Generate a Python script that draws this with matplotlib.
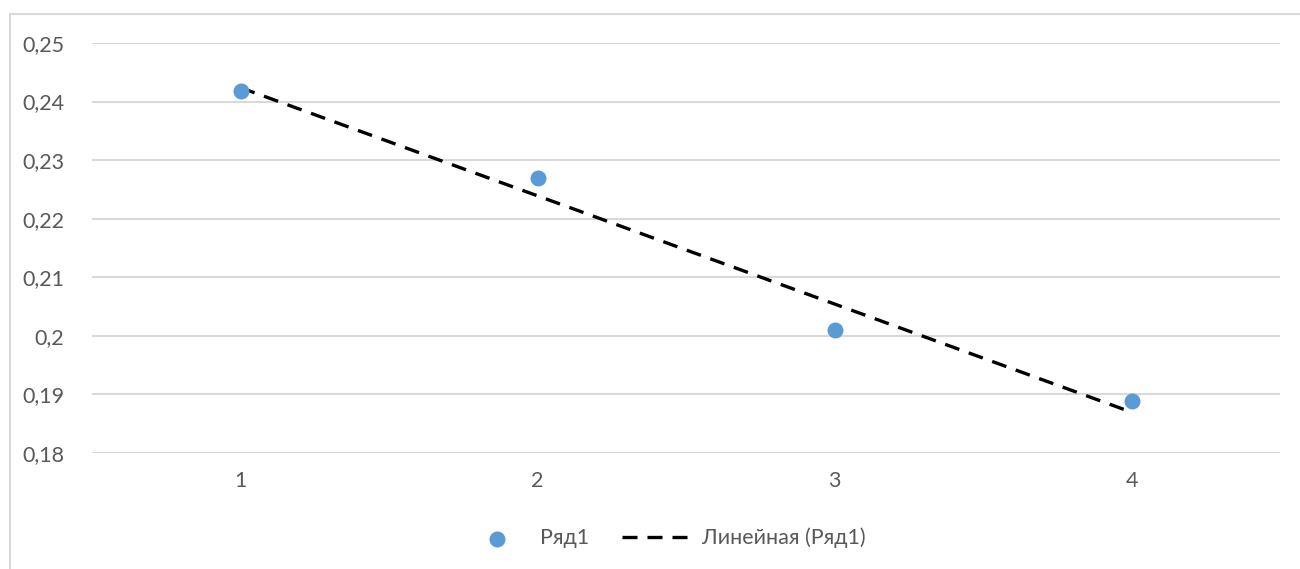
import numpy as np
import matplotlib.pyplot as plt
from matplotlib.patches import Rectangle
from matplotlib.ticker import FuncFormatter

# data
x_vals = [1, 2, 3, 4]
y_vals = [0.2418, 0.2270, 0.2010, 0.1889]
y_ticks = [0.18, 0.19, 0.20, 0.21, 0.22, 0.23, 0.24, 0.25]

plt.rcParams['font.family'] = ['Lato', 'DejaVu Sans']

fig = plt.figure(figsize=(13, 5.69), dpi=100)
ax = fig.add_axes([92 / 1300, 1 - 453 / 569, (1280 - 92) / 1300, (453 - 43) / 569])

# outer chart-area frame (Excel style)
fig.patches.append(Rectangle((10 / 1300, -0.05), 1.2, 1 - 14 / 569 + 0.05,
                             transform=fig.transFigure, fill=False,
                             edgecolor='#d9d9d9', linewidth=1.5))

ax.scatter(x_vals, y_vals, s=110, color='#5B9BD5', zorder=3, label='Ряд1')

# linear trendline
k, b = np.polyfit(x_vals, y_vals, 1)
xt = np.array([x_vals[0], x_vals[-1]])
ax.plot(xt, k * xt + b, color='black', linestyle=(0, (4.5, 3.0)), linewidth=2.4,
        zorder=2, label='Линейная (Ряд1)')

ax.set_xlim(0.5, 4.5)
ax.set_ylim(0.18, 0.25)
ax.set_xticks(x_vals)
ax.set_yticks(y_ticks)
ax.yaxis.set_major_formatter(FuncFormatter(lambda v, p: ('%g' % round(v, 2)).replace('.', ',')))
ax.grid(axis='y', color='#d9d9d9', linewidth=1.5)
ax.set_axisbelow(True)
for s in ax.spines.values():
    s.set_visible(False)
ax.tick_params(length=0, labelsize=15.5, labelcolor='#595959')
ax.tick_params(axis='y', pad=20)
ax.tick_params(axis='x', pad=13)

leg = fig.legend(loc='center', bbox_to_anchor=(663 / 1300, 1 - 538 / 569), ncol=2,
                 frameon=False, fontsize=15.5, handlelength=3.4, columnspacing=1.5,
                 handletextpad=0.3)
for t in leg.get_texts():
    t.set_color('#595959')

fig.savefig('out.png', dpi=100, facecolor='white')
